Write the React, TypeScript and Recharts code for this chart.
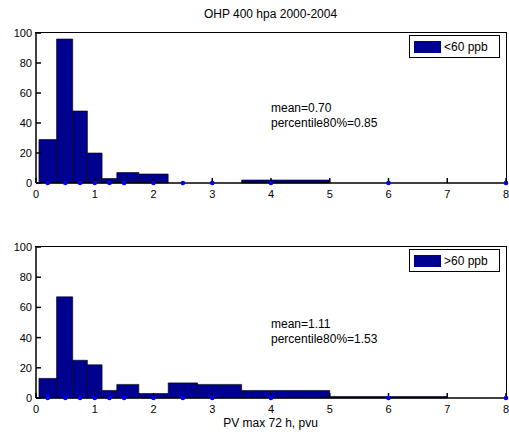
import React from 'react';
import {
  ComposedChart,
  XAxis,
  YAxis,
  Scatter,
  ReferenceArea
} from 'recharts';

// bin centres (blue markers) and bin edges (midpoints between centres)
const centers = [0.2, 0.5, 0.75, 1, 1.25, 1.5, 2, 2.5, 3, 4, 6, 8];
const edges = [0.05, 0.35, 0.625, 0.875, 1.125, 1.375, 1.75, 2.25, 2.75, 3.5, 5, 7, 9];

const lowCounts = [29, 96, 48, 20, 3, 7, 6, 0, 0, 2, 0, 0];
const highCounts = [13, 67, 25, 22, 5, 9, 3, 10, 9, 5, 1, 0];

const xTicks = [0, 1, 2, 3, 4, 5, 6, 7, 8];
const yTicks = [0, 20, 40, 60, 80, 100];

const FONT = 'Arial, "Liberation Sans", Helvetica, sans-serif';
const NAVY = '#00008f';
const axisStroke = { stroke: '#000', strokeWidth: 1.5 };

interface HistProps {
  counts: number[];
  legendLabel: string;
  height: number;
  bottomMargin: number;
}

function Hist({ counts, legendLabel, height, bottomMargin }: HistProps) {
  const markers = centers.map((c) => ({ x: c, y: 0 }));

  return (
    <div style={{ position: 'relative', width: 509, height }}>
      <ComposedChart
        width={509}
        height={height}
        margin={{ top: 33, right: 3, left: 0, bottom: bottomMargin }}
        style={{ fontFamily: FONT }}
      >
        <XAxis
          dataKey="x"
          type="number"
          domain={[0, 8]}
          ticks={xTicks}
          height={17}
          tickSize={-5}
          tickMargin={12}
          axisLine={axisStroke}
          tickLine={axisStroke}
          tick={{ fill: '#000', fontSize: 11 }}
        />
        <YAxis
          dataKey="y"
          type="number"
          domain={[0, 100]}
          ticks={yTicks}
          width={36}
          tickSize={-5}
          tickMargin={9}
          axisLine={axisStroke}
          tickLine={axisStroke}
          tick={{ fill: '#000', fontSize: 11 }}
        />
        {counts.map((v, i) =>
          v > 0 ? (
            <ReferenceArea
              key={i}
              x1={edges[i]}
              x2={Math.min(edges[i + 1], 8)}
              y1={0}
              y2={v}
              fill={NAVY}
              fillOpacity={1}
              stroke="#000"
              strokeWidth={0.6}
            />
          ) : null
        )}
        <Scatter
          data={markers}
          fill="#0000ff"
          isAnimationActive={false}
          shape={(p: any) => <circle cx={p.cx} cy={p.cy} r={2.3} fill="#0000ff" />}
        />
      </ComposedChart>
      {/* box frame (top and right sides) */}
      <div
        style={{
          position: 'absolute',
          left: 35,
          top: 32,
          width: 471,
          height: 151,
          borderTop: '1.5px solid #000',
          borderRight: '1.5px solid #000',
          pointerEvents: 'none'
        }}
      />
      <div
        style={{
          position: 'absolute',
          top: 35,
          left: 409,
          boxSizing: 'border-box',
          width: 91,
          height: 23,
          border: '1.5px solid #000',
          background: '#fff',
          display: 'flex',
          alignItems: 'center',
          fontFamily: FONT,
          fontSize: 12,
          color: '#000'
        }}
      >
        <span
          style={{ display: 'inline-block', width: 27, height: 12, background: NAVY, marginLeft: 4, marginRight: 3 }}
        />
        {legendLabel}
      </div>
    </div>
  );
}

const noteStyle: React.CSSProperties = {
  position: 'absolute',
  left: 271,
  fontFamily: FONT,
  fontSize: 12,
  lineHeight: '15px',
  color: '#000',
  whiteSpace: 'nowrap'
};

export default function App() {
  return (
    <div style={{ position: 'absolute', left: 0, top: 0, width: 509, height: 439, background: '#fff' }}>
      <div
        style={{
          position: 'absolute',
          top: 7,
          width: 541,
          textAlign: 'center',
          fontFamily: FONT,
          fontSize: 12,
          color: '#000'
        }}
      >
        OHP 400 hpa 2000-2004
      </div>
      <div style={{ position: 'absolute', top: 0, left: 0 }}>
        <Hist counts={lowCounts} legendLabel="<60 ppb" height={200} bottomMargin={0} />
      </div>
      <div style={{ position: 'absolute', top: 214, left: 0 }}>
        <Hist counts={highCounts} legendLabel=">60 ppb" height={225} bottomMargin={24} />
      </div>
      <div style={{ ...noteStyle, top: 101 }}>
        mean=0.70
        <br />
        percentile80%=0.85
      </div>
      <div style={{ ...noteStyle, top: 317 }}>
        mean=1.11
        <br />
        percentile80%=1.53
      </div>
      <div
        style={{
          position: 'absolute',
          top: 416,
          width: 541,
          textAlign: 'center',
          fontFamily: FONT,
          fontSize: 12,
          color: '#000'
        }}
      >
        PV max 72 h, pvu
      </div>
    </div>
  );
}
